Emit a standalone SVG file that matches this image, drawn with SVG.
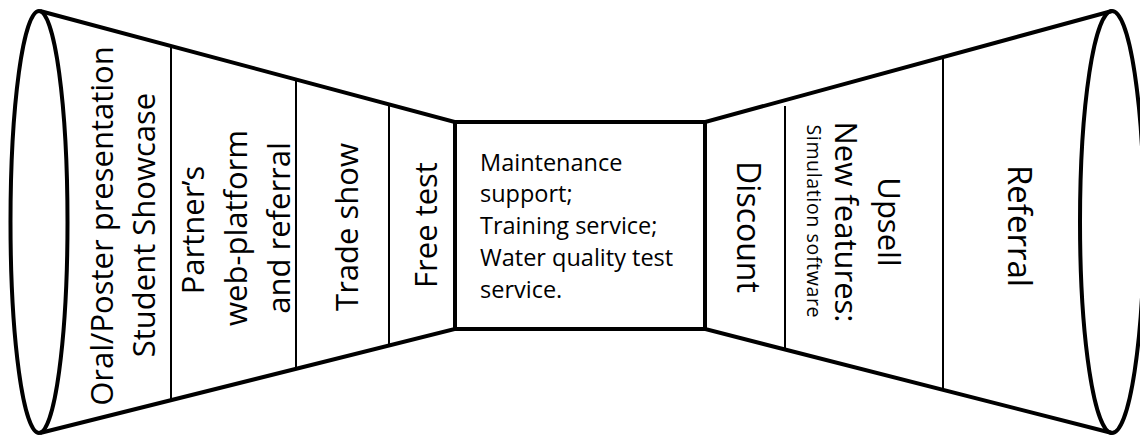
<svg xmlns="http://www.w3.org/2000/svg" width="1140" height="437" viewBox="0 0 1140 437">
<style>
.thick{fill:none;stroke:#000;stroke-width:4;stroke-linejoin:miter}
.thin{fill:none;stroke:#000;stroke-width:2}
.t{font-family:"Open Sans","Noto Sans",sans-serif;fill:#000;text-anchor:middle}
.l{font-size:31px}
.c{font-family:"Open Sans","Noto Sans",sans-serif;fill:#000;font-size:23.5px}
</style>
<rect width="1140" height="437" fill="#fff"/>
<g id="connectors">
<polyline class="thick" points="40,11 455,122 455,329 40,433"/>
<polyline class="thick" points="1112,11 705,122 705,329 1112,433"/>
<line class="thin" x1="171" y1="45.6" x2="171" y2="401"/>
<line class="thin" x1="296" y1="79.5" x2="296" y2="368.7"/>
<line class="thin" x1="389" y1="104.7" x2="389" y2="344.6"/>
<line class="thin" x1="785" y1="106" x2="785" y2="350"/>
<line class="thin" x1="943" y1="59" x2="943" y2="390"/>
</g>
<g id="left-end"><ellipse class="thick" cx="39" cy="222" rx="28.5" ry="211"/></g>
<g id="right-end"><ellipse class="thick" cx="1112" cy="222" rx="32" ry="211"/></g>
<g id="oral-poster">
<text class="t l" transform="translate(113,226) rotate(-90)">Oral/Poster presentation</text>
<text class="t l" transform="translate(155,225) rotate(-90)">Student Showcase</text>
</g>
<g id="partner">
<text class="t l" transform="translate(204,230) rotate(-90)">Partner’s</text>
<text class="t l" transform="translate(247,228) rotate(-90)">web-platform</text>
<text class="t l" transform="translate(290,228) rotate(-90)">and referral</text>
</g>
<g id="trade-show"><text class="t l" transform="translate(358,227) rotate(-90)">Trade show</text></g>
<g id="free-test"><text class="t l" transform="translate(437,225) rotate(-90)">Free test</text></g>
<g id="center">
<rect class="thick" x="455" y="122" width="250" height="207"/>
<text class="c" x="480" y="171">Maintenance</text>
<text class="c" x="480" y="202">support;</text>
<text class="c" x="480" y="234">Training service;</text>
<text class="c" x="480" y="266">Water quality test</text>
<text class="c" x="480" y="298">service.</text>
</g>
<g id="discount"><text class="t" font-size="32" transform="translate(737,227) rotate(90)">Discount</text></g>
<g id="upsell">
<text class="t l" transform="translate(878,222) rotate(90)">Upsell</text>
<text class="t l" transform="translate(835,222) rotate(90)">New features:</text>
<text class="t" font-size="19.5" textLength="193" transform="translate(807,221) rotate(90)">Simulation software</text>
</g>
<g id="referral"><text class="t" font-size="33" transform="translate(1008,226) rotate(90)">Referral</text></g>
</svg>
